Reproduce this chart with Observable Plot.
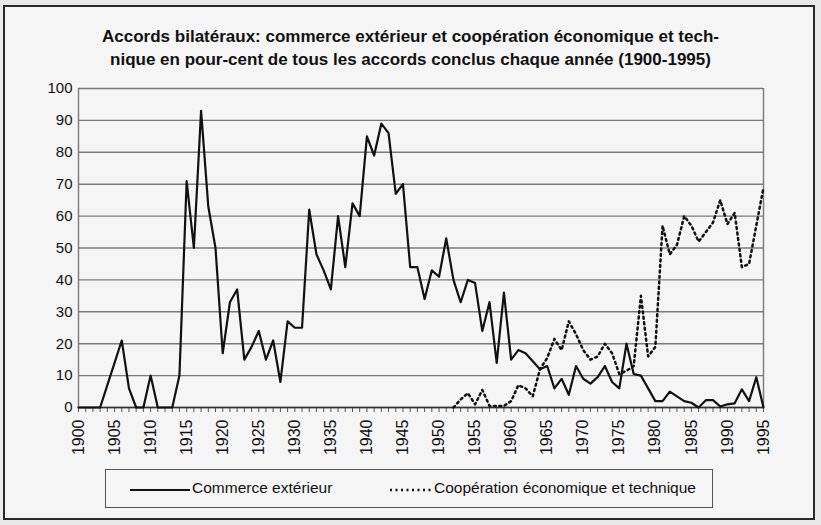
<!DOCTYPE html>
<html>
<head>
<meta charset="utf-8">
<script src="https://cdn.jsdelivr.net/npm/d3@7"></script>
<script src="https://cdn.jsdelivr.net/npm/@observablehq/plot@0.6"></script>
<style>
  html, body { margin: 0; padding: 0; background: #e9e9e9; }
  body { width: 821px; height: 525px; position: relative; overflow: hidden;
         font-family: "Liberation Sans Narrow", "Liberation Sans", Arial, sans-serif; color: #111; }
  #frame { position: absolute; left: 3px; top: 5px; width: 808px; height: 511px;
           border: 2px solid #2a2a2a; background: #f5f5f5; }
  #title { position: absolute; left: 0; top: 25px; width: 821px; text-align: center;
           font-weight: bold; font-size: 17px; line-height: 23px; }
  #chart { position: absolute; left: 0; top: 70px; }
  #legend { position: absolute; left: 105px; top: 469px; width: 606px; height: 37px;
            border: 1.5px solid #555; font-size: 15.5px; }
  #legend svg { position: absolute; left: 0; top: 0; }
  .lt { position: absolute; top: 9px; white-space: nowrap; }
</style>
</head>
<body>
<div id="frame"></div>
<div id="title">Accords bilatéraux: commerce extérieur et coopération économique et tech-<br>nique en pour-cent de tous les accords conclus chaque année (1900-1995)</div>
<div id="chart"></div>
<div id="legend">
  <svg width="606" height="37">
    <line x1="24" x2="84" y1="20" y2="20" stroke="#111" stroke-width="2.2"/>
    <line x1="284" x2="326" y1="20" y2="20" stroke="#111" stroke-width="2.5" stroke-dasharray="2,3.5"/>
  </svg>
  <span class="lt" style="left:86px">Commerce extérieur</span>
  <span class="lt" style="left:328px">Coopération économique et technique</span>
</div>
<script>
// Commerce extérieur, % of all agreements, 1900–1995
const commerceStart = 1900;
const commerceValues = [
  0, 0, 0, 0, 7, 14, 21, 6, 0, 0,          // 1900-1909
  10, 0, 0, 0, 10, 71, 50, 93, 63, 50,     // 1910-1919
  17, 33, 37, 15, 19, 24, 15, 21, 8, 27,   // 1920-1929
  25, 25, 62, 48, 43, 37, 60, 44, 64, 60,  // 1930-1939
  85, 79, 89, 86, 67, 70, 44, 44, 34, 43,  // 1940-1949
  41, 53, 40, 33, 40, 39, 24, 33, 14, 36,  // 1950-1959
  15, 18, 17, 14.5, 12, 13, 6, 9, 4, 13,   // 1960-1969
  9, 7.5, 9.5, 13, 8, 6, 20, 10.5, 10, 6,  // 1970-1979
  2, 2, 5, 3.5, 2, 1.5, 0, 2.3, 2.3, 0.3,  // 1980-1989
  1, 1.3, 5.7, 2, 9.5, 0                   // 1990-1995
];
// Coopération économique et technique, 1952–1995
const coopStart = 1952;
const coopValues = [
  0, 2.5, 4.5, 1, 5.5, 0.5, 0.5, 0.5,      // 1952-1959
  2, 7, 6, 3.5, 12, 15.5, 21.5, 18, 27, 23, // 1960-1969
  18, 15, 16, 20, 17, 10.5, 11.5, 13, 35, 16, // 1970-1979
  19, 57, 48, 51, 60, 57, 52, 55, 58, 65,  // 1980-1989
  57.5, 61, 44, 45, 57, 69                 // 1990-1995
];
const yTicks = [0, 10, 20, 30, 40, 50, 60, 70, 80, 90, 100];
const xLabelYears = [1900,1905,1910,1915,1920,1925,1930,1935,1940,1945,1950,1955,1960,1965,1970,1975,1980,1985,1990,1995];

const commerce = commerceValues.map((v, i) => ({year: commerceStart + i, value: v}));
const coop = coopValues.map((v, i) => ({year: coopStart + i, value: v}));
const allYears = d3.range(1900, 1996);

const chart = Plot.plot({
  width: 821,
  height: 400,
  marginLeft: 78,
  marginRight: 58,
  marginTop: 18,
  marginBottom: 63,
  x: {domain: [1900, 1995], label: null},
  y: {domain: [0, 100], label: null},
  style: {background: "transparent", fontFamily: "'Liberation Sans Narrow', 'Liberation Sans', Arial, sans-serif", fontSize: "15px", color: "#111"},
  marks: [
    Plot.gridY(yTicks, {stroke: "#7a7a7a", strokeOpacity: 1, strokeWidth: 1.4}),
    Plot.ruleX([1900, 1995], {stroke: "#7a7a7a", strokeWidth: 1.4}),
    Plot.axisY(yTicks, {tickSize: 0, tickPadding: 6, fontSize: 15, label: null}),
    Plot.axisX(allYears, {tickSize: 5, tickFormat: () => "", stroke: "#555", label: null}),
    Plot.axisX(xLabelYears, {tickSize: 0, tickRotate: -90, tickPadding: 12, fontSize: 16, tickFormat: d => String(d), label: null}),
    Plot.ruleY([0], {stroke: "#333", strokeWidth: 1.4}),
    Plot.line(coop, {x: "year", y: "value", stroke: "#111", strokeWidth: 2.5, strokeDasharray: "2,3.5"}),
    Plot.line(commerce, {x: "year", y: "value", stroke: "#111", strokeWidth: 2.2})
  ]
});
document.getElementById("chart").appendChild(chart);
</script>
</body>
</html>
